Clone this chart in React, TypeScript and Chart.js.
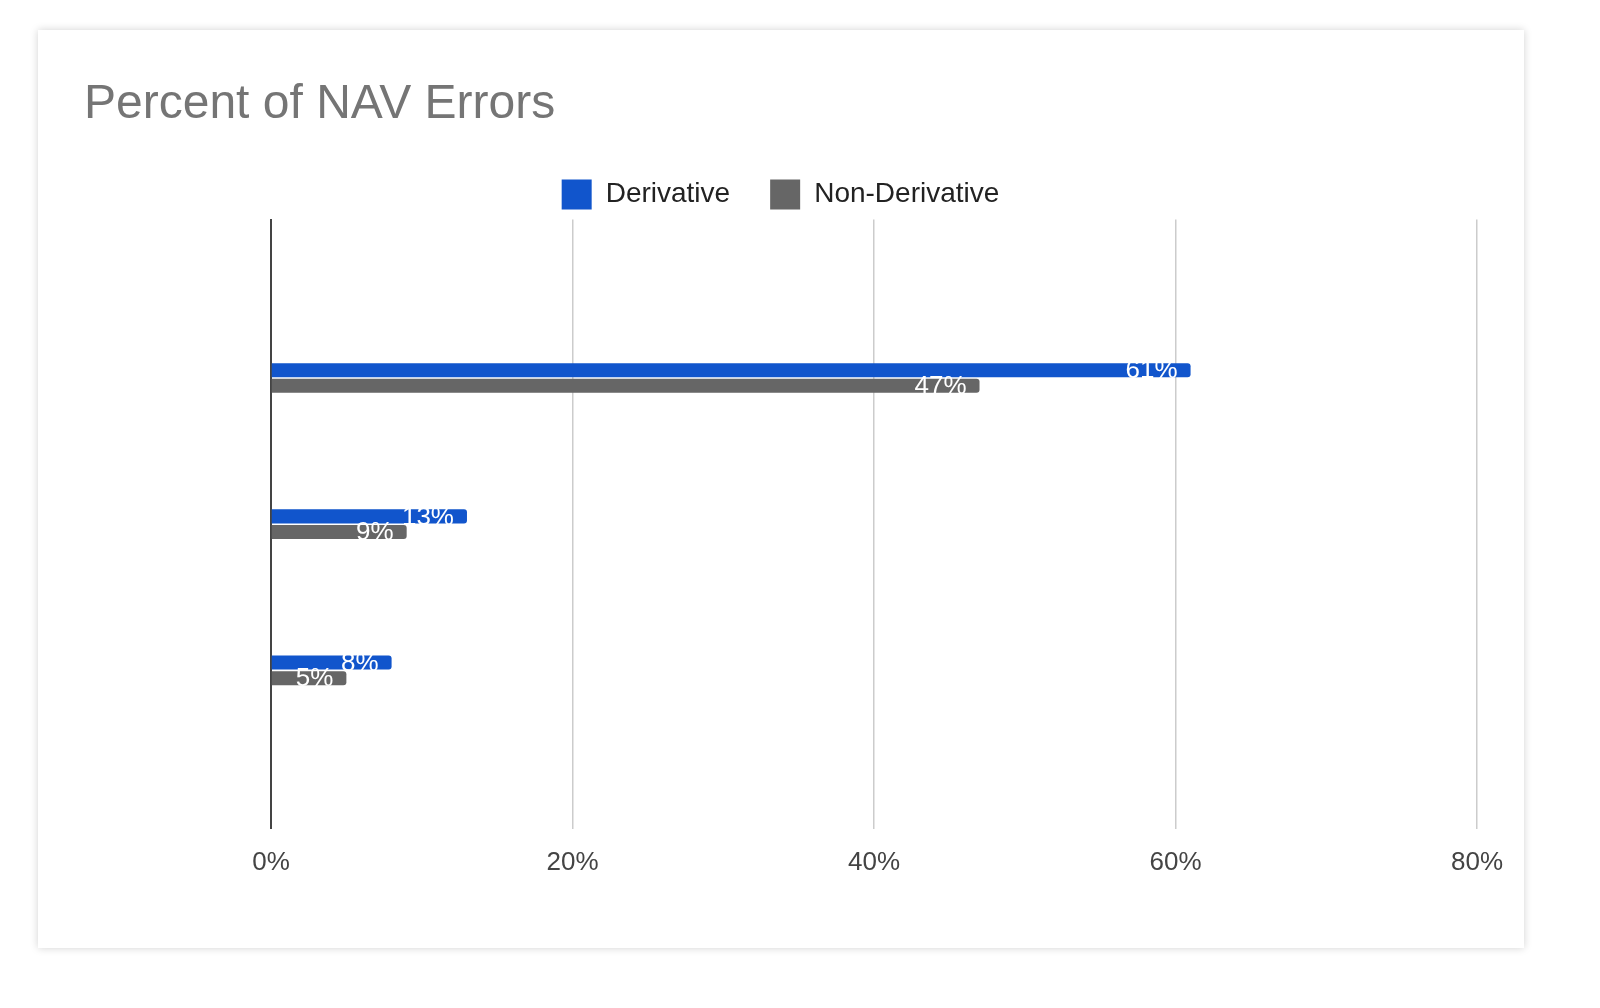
import React, { useEffect, useRef } from "react";
import { Chart, registerables } from "chart.js";
Chart.register(...registerables);

const categories = ["Manual Error", "Wrong Price", "Wrong Dates"];
const derivative = [61, 13, 8];
const nonDerivative = [47, 9, 5];
const xTicks = [0, 20, 40, 60, 80];
const FONT = "'Liberation Sans', Arial, Helvetica, sans-serif";

const labelPlugin = {
  id: "barLabels",
  afterDatasetsDraw(chart: any) {
    const ctx = chart.ctx;
    ctx.save();
    ctx.fillStyle = "#ffffff";
    ctx.font = "26px " + FONT;
    ctx.textAlign = "right";
    ctx.textBaseline = "middle";
    chart.data.datasets.forEach((ds: any, i: number) => {
      chart.getDatasetMeta(i).data.forEach((bar: any, j: number) => {
        ctx.fillText(ds.data[j].x + "%", bar.x - 13, bar.y + 1);
      });
    });
    ctx.restore();
  },
};

export default function App() {
  const ref = useRef<HTMLCanvasElement>(null);
  useEffect(() => {
    const chart = new Chart(ref.current!, {
      type: "bar",
      data: {
        datasets: [
          { label: "Derivative", data: categories.map((c, i) => ({ x: derivative[i], y: i })), backgroundColor: "#1155cc", categoryPercentage: 0.64, barPercentage: 0.9, borderRadius: 3 },
          { label: "Non-Derivative", data: categories.map((c, i) => ({ x: nonDerivative[i], y: i })), backgroundColor: "#666666", categoryPercentage: 0.64, barPercentage: 0.9, borderRadius: 3 },
        ],
      },
      options: {
        indexAxis: "y",
        animation: false,
        responsive: false,
        layout: { padding: { left: 46, right: 47, top: 46, bottom: 52 } },
        plugins: {
          title: { display: true, text: "Percent of NAV Errors", align: "start", color: "#757575", font: { size: 48, family: FONT, weight: "normal" }, padding: { top: 0, bottom: 6 } },
          legend: { labels: { boxWidth: 30, boxHeight: 30, padding: 40, color: "#222", font: { size: 28, family: FONT } } },
          tooltip: { enabled: false },
        },
        scales: {
          x: {
            type: "linear", min: 0, max: 80,
            afterBuildTicks: (s: any) => { s.ticks = xTicks.map((v) => ({ value: v })); },
            ticks: { callback: (v: any) => v + "%", color: "#444", font: { size: 26, family: FONT }, padding: 18, maxRotation: 0 },
            grid: { color: "#cccccc", lineWidth: 1.5, drawTicks: false },
            border: { display: false },
          },
          y: {
            type: "linear", min: -0.667, max: 2.667, reverse: true, bounds: "data", grace: 0,
            afterFit: (s: any) => { s.width = 187; },
            ticks: { stepSize: 1, autoSkip: false, callback: (v: any) => (Number.isInteger(v) ? categories[v] ?? "" : ""), color: "#222", font: { size: 28, family: FONT }, padding: 14 },
            grid: { display: false },
            border: { display: true, color: "#444", width: 2 },
          },
        },
      } as any,
      plugins: [labelPlugin],
    });
    return () => chart.destroy();
  }, []);
  return (
    <div style={{ position: "absolute", left: 38, top: 30, width: 1486, height: 918, background: "#fff", boxShadow: "0 0 8px rgba(0,0,0,0.18)" }}>
      <canvas ref={ref} width={1486} height={918} style={{ display: "block" }} />
    </div>
  );
}
